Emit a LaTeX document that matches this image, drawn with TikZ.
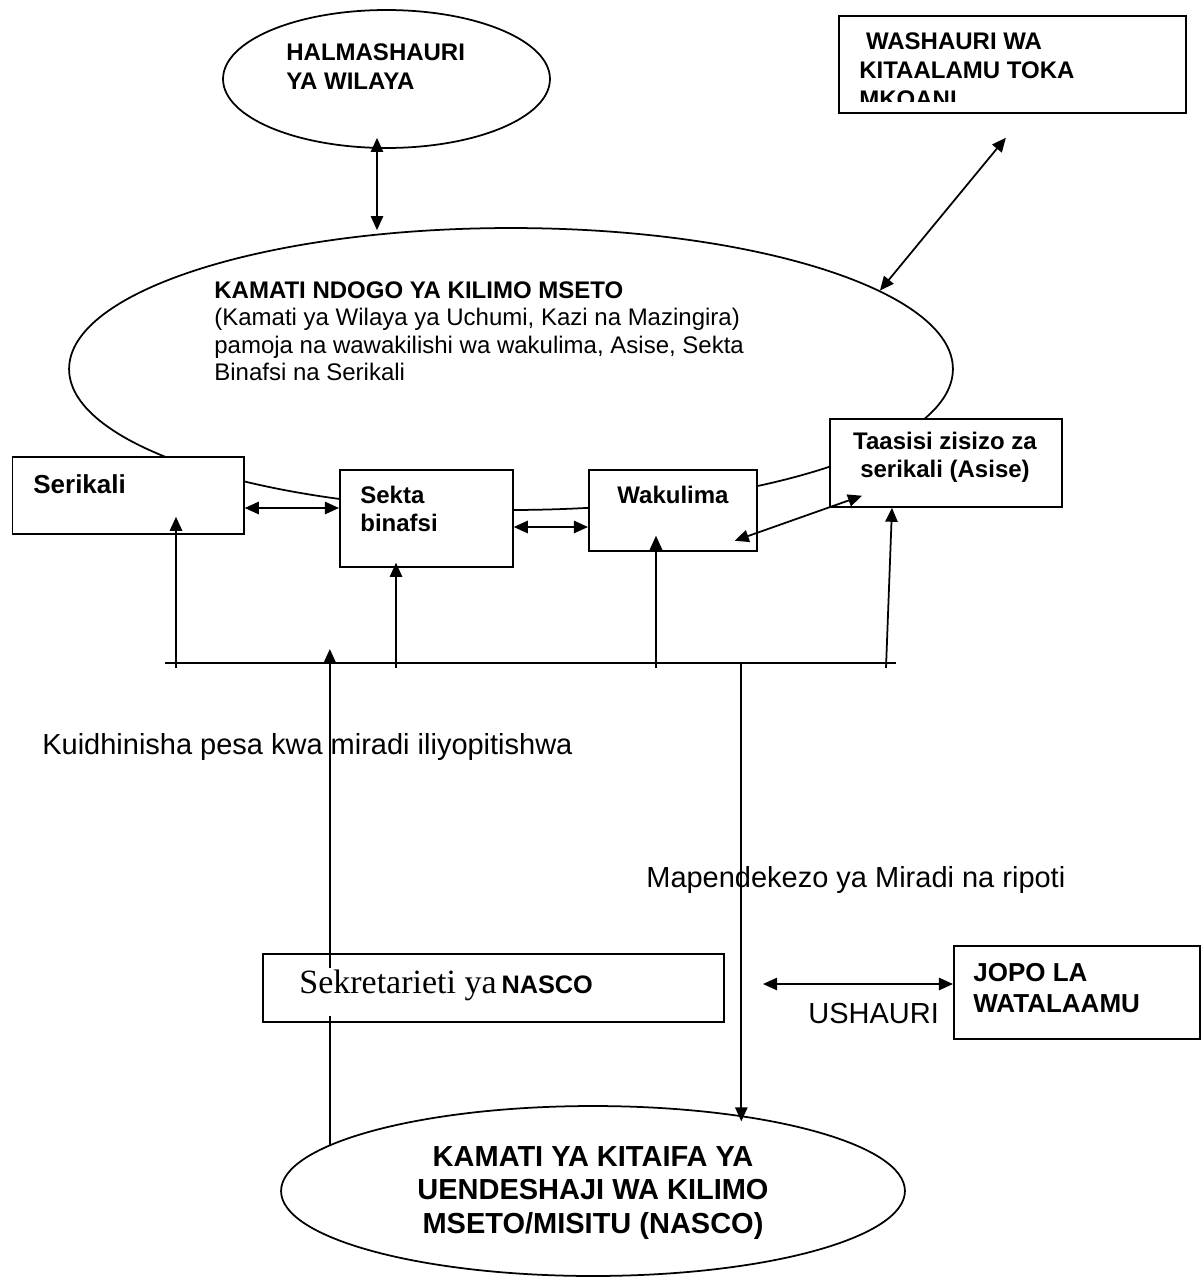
\documentclass[tikz,border=0pt]{standalone}
\usepackage{fontspec}
\setmainfont{Liberation Sans}
\newfontfamily\serif{Liberation Serif}
\usepackage{tikz}
\usetikzlibrary{shapes.geometric, arrows.meta}
\tikzstyle{dbl} = [line width=1pt,{Triangle[length=8pt,width=7pt]}-{Triangle[length=8pt,width=7pt]}]
\tikzstyle{arr} = [line width=1pt,-{Triangle[length=8pt,width=7pt]}]
\tikzstyle{box} = [draw, line width=1pt, fill=white, anchor=north west, inner sep=0pt]
\tikzstyle{oval} = [draw, ellipse, line width=1pt, inner sep=0pt]
\tikzstyle{teks} = [inner sep=0pt, anchor=base west, align=left]

\begin{document}
\begin{tikzpicture}[x=0.02cm, y=-0.02cm]
  \useasboundingbox (0,0) rectangle (1201,1278);

  % Elips atas (teks berbaris banyak: titik base = baris terakhir)
  \node[oval, minimum width=6.54cm, minimum height=2.76cm] (halm) at (386.5,79) {};
  \node[teks, font=\fontsize{13.66}{16.5}\selectfont\bfseries] (halmtxt) at (286,89) {HALMASHAURI\\YA WILAYA};
  \node[oval, minimum width=17.68cm, minimum height=5.64cm] (ndogo) at (511,369) {};
  \node[teks, font=\fontsize{13.66}{15.65}\selectfont] (ndogotxt) at (214,380.5)
    {\textbf{KAMATI NDOGO YA KILIMO MSETO}\\(Kamati ya Wilaya ya Uchumi, Kazi na Mazingira)\\pamoja na wawakilishi wa wakulima, Asise, Sekta\\Binafsi na Serikali};

  % Washauri toka mkoani (teks terpotong)
  \node[box, minimum width=6.94cm, minimum height=1.94cm] (washauri) at (838,15) {};
  \begin{scope}
    \clip (838,15) rectangle (1185,101);
    \node[teks, font=\fontsize{13.66}{16.5}\selectfont\bfseries] (washtxt) at (859,107) {\ WASHAURI WA\\KITAALAMU TOKA\\MKOANI};
  \end{scope}

  % Kotak wadau
  \node[box, minimum width=4.63cm, minimum height=1.54cm] (serikali) at (11.5,456) {};
  \node[box, minimum width=3.46cm, minimum height=1.94cm] (sekta) at (339,469) {};
  \node[box, minimum width=3.36cm, minimum height=1.62cm] (wakulima) at (588,469) {};
  \node[box, minimum width=4.64cm, minimum height=1.76cm] (taasisi) at (829,418) {};
  \node[teks, font=\fontsize{14.8}{17}\selectfont\bfseries] (sertxt) at (33,493) {Serikali};
  \node[teks, font=\fontsize{13.66}{15.9}\selectfont\bfseries] (sektxt) at (360,531) {Sekta\\binafsi};
  \node[teks, anchor=base, font=\fontsize{13.66}{15.9}\selectfont\bfseries] (waktxt) at (673,503) {Wakulima};
  \node[teks, anchor=base, align=center, font=\fontsize{13.66}{15.9}\selectfont\bfseries] (taatxt) at (945,477) {Taasisi zisizo za\\serikali (Asise)};

  % Panah antar elips dan kotak
  \draw[dbl, shorten <=-0.22cm, shorten >=-0.06cm] (halm.south -| 377,0) -- (ndogo.north -| 377,0);
  \draw[dbl] (ndogo.12) -- ([shift={(-6.5,24)}]washauri.south);
  \draw[dbl] (serikali.east |- 0,508) -- (sekta.west |- 0,508);
  \draw[dbl] (sekta.east |- 0,527) -- (wakulima.west |- 0,527);
  \draw[dbl] ([shift={(-23,-11)}]wakulima.south east) -- ([shift={(33,-12)}]taasisi.south west);

  % Garis pembagi pesa
  \coordinate (busL) at (165,663);
  \coordinate (busR) at (896,663);
  \draw[line width=1pt] (busL) -- (busR);
  \foreach \x/\nd/\d in {176/serikali/0.36, 396/sekta/0.1, 656/wakulima/0.32} {
    \draw[arr, shorten >=-\d cm] (\x,0 |- busL) ++(0,5) -- (\nd.south -| \x,0);
  }
  \draw[arr] (886,0 |- busL) ++(0,5) -- (taasisi.south -| 892,0);
  \node[teks, font=\fontsize{16.5}{19}\selectfont] (pesatxt) at (42,754) {Kuidhinisha pesa kwa miradi iliyopitishwa};
  \node[teks, font=\fontsize{16.5}{19}\selectfont] (miradtxt) at (646,887) {Mapendekezo ya Miradi na ripoti};

  % Sekretarieti, jopo na kamati ya kitaifa
  \node[box, minimum width=9.22cm, minimum height=1.36cm] (sekr) at (262,953) {};
  \node[teks] (sekrtxt) at (299,993) {{\serif\fontsize{19.35}{22}\selectfont Sekretarieti ya} {\fontsize{14.4}{16}\selectfont\bfseries NASCO}};
  \node[box, minimum width=4.92cm, minimum height=1.86cm] (jopo) at (953,945) {};
  \node[teks, font=\fontsize{14.8}{17.1}\selectfont\bfseries] (jopotxt) at (973,1012) {JOPO LA\\WATALAAMU};
  \node[teks, font=\fontsize{16.5}{19}\selectfont] (ushtxt) at (808,1023) {USHAURI};
  \draw[dbl] (jopo.west |- 0,984) -- ++(-190,0);

  \node[oval, minimum width=12.48cm, minimum height=3.4cm] (nasco) at (593,1191) {};
  \node[teks, anchor=base, align=center, font=\fontsize{16.5}{18.8}\selectfont\bfseries] (nascotxt) at (593,1233)
    {KAMATI YA KITAIFA YA\\UENDESHAJI WA KILIMO\\MSETO/MISITU (NASCO)};

  \draw[arr, shorten >=-0.12cm] (busL -| nasco.27) -- (nasco.27);
  \draw[arr, shorten >=-0.28cm] (sekr.north -| nasco.170) ++(0,15) -- (busL -| nasco.170);
  \draw[line width=1pt] (nasco.170) -- (sekr.south -| nasco.170) -- ++(0,-7);

\end{tikzpicture}
\end{document}
